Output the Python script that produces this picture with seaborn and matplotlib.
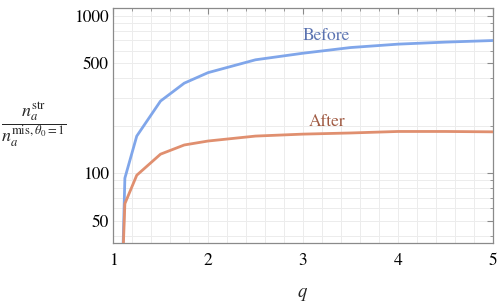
import numpy as np
import pandas as pd
import matplotlib
matplotlib.use("Agg")
import matplotlib.pyplot as plt
import seaborn as sns
from matplotlib.ticker import FixedLocator, NullFormatter, MultipleLocator, FixedFormatter

# Data
q = [1.1, 1.125, 1.25, 1.5, 1.75, 2.0, 2.5, 3.0, 3.5, 4.0, 4.5, 5.0]
before = [25, 93, 172, 287, 373, 435, 525, 578, 628, 660, 680, 696]
after = [25, 64, 97, 132, 151, 160, 172, 177, 180, 184, 184, 183]
series_names = ["Before", "After"]
xticks = [1, 2, 3, 4, 5]
yticks = [50, 100, 500, 1000]

df = pd.DataFrame({
    "q": q * 2,
    "value": before + after,
    "series": ["Before"] * len(q) + ["After"] * len(q),
})

sns.set_style("white")
plt.rcParams["font.family"] = ["STIXGeneral", "DejaVu Serif"]
plt.rcParams["mathtext.fontset"] = "stix"

fig = plt.figure(figsize=(4.98, 3.03), dpi=100)
ax = fig.add_axes([113 / 498, 1 - 243 / 303, 380 / 498, 235 / 303])

line_colors = {"Before": "#80a6ea", "After": "#e08f6f"}
label_colors = {"Before": "#5a72b0", "After": "#a05a42"}

sns.lineplot(data=df, x="q", y="value", hue="series", palette=line_colors,
             linewidth=2.0, legend=False, ax=ax, sort=False, zorder=3)

ax.set_yscale("log")
ax.set_xlim(1, 5)
ax.set_ylim(36, 1120)

# ticks
ax.xaxis.set_major_locator(FixedLocator(xticks))
ax.xaxis.set_minor_locator(MultipleLocator(0.2))
minor_y = [v for d in (10, 100) for v in range(2 * d, 10 * d + 1, d)] + [40]
minor_y = sorted(set(m for m in minor_y if m not in yticks))
ax.yaxis.set_major_locator(FixedLocator(yticks))
ax.yaxis.set_major_formatter(FixedFormatter([str(t) for t in yticks]))
ax.yaxis.set_minor_locator(FixedLocator(minor_y))
ax.yaxis.set_minor_formatter(NullFormatter())

ax.tick_params(which="both", direction="in", top=True, right=True,
               color="#8a8a8a", labelsize=12.5, labelcolor="black")
ax.tick_params(axis="y", which="both", pad=3)
ax.tick_params(axis="x", which="both", pad=7)
ax.tick_params(which="major", length=4, width=0.8)
ax.tick_params(which="minor", length=2.2, width=0.6)

ax.grid(True, which="both", color="#ececec", linewidth=0.7, zorder=0)
ax.set_axisbelow(True)
for s in ax.spines.values():
    s.set_color("#8a8a8a")
    s.set_linewidth(0.9)

ax.set_xlabel("$q$", fontsize=13.5, labelpad=12)
ax.set_ylabel("")

ax.text(3.25, 743, "Before", color=label_colors["Before"], fontsize=12.5,
        ha="center", va="center")
ax.text(3.25, 212, "After", color=label_colors["After"], fontsize=12.5,
        ha="center", va="center")

fig.text(34 / 498, 1 - 125 / 303,
         r"$\dfrac{n_a^{\mathrm{str}}}{n_a^{\mathrm{mis},\theta_0=1}}$",
         fontsize=13, ha="center", va="center")

fig.savefig("out.png", dpi=100)
